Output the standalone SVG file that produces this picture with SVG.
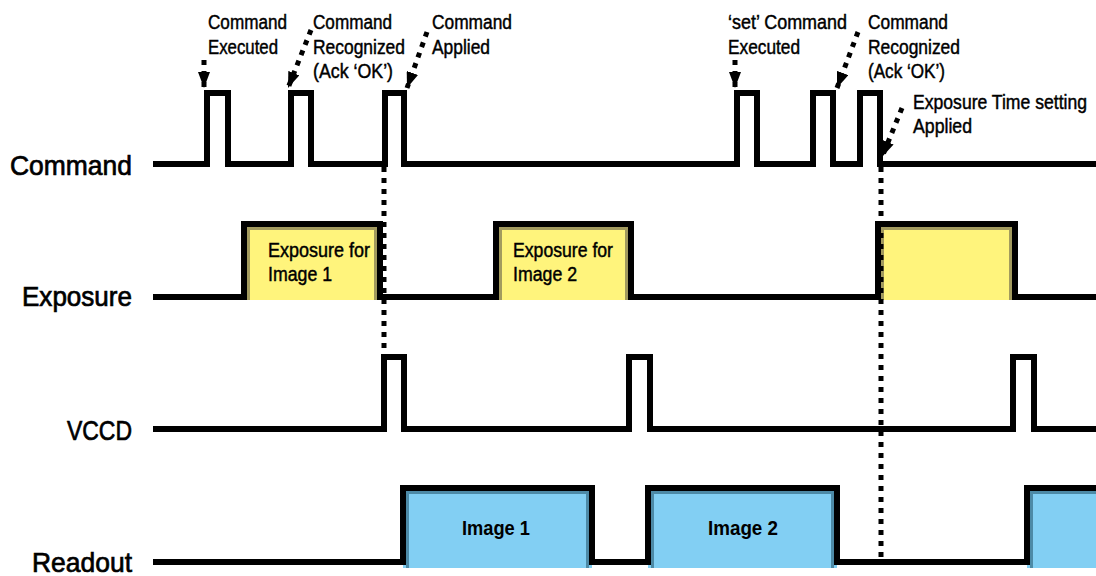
<svg xmlns="http://www.w3.org/2000/svg" width="1096" height="576" viewBox="0 0 1096 576">
<defs>
<style>
.wave{fill:none;stroke:#000;stroke-width:6;stroke-linejoin:miter;stroke-linecap:butt}
.yfill{fill:#FFF47C}
.yedge{fill:none;stroke:#A29A5E;stroke-width:3}
.bfill{fill:#82CFF3}
.bedge{fill:none;stroke:#4D8AA6;stroke-width:3}
.lbl{font-family:"Liberation Sans Narrow","Liberation Sans",Arial,sans-serif;font-size:28px;fill:#000;stroke:#000;stroke-width:0.7}
.ann{font-family:"Liberation Sans Narrow","Liberation Sans",Arial,sans-serif;font-size:20px;fill:#000;stroke:#000;stroke-width:0.45}
.img{font-family:"Liberation Sans Narrow","Liberation Sans",Arial,sans-serif;font-size:20px;font-weight:bold;fill:#000}
.dots{fill:none;stroke:#000;stroke-width:5;stroke-dasharray:5 6;stroke-linecap:butt}
</style>
<marker id="ah" markerUnits="userSpaceOnUse" markerWidth="17" markerHeight="12" refX="16" refY="6" orient="auto">
<path d="M0,0 L16,6 L0,12 Z" fill="#000"/>
</marker>
</defs>
<rect width="1096" height="576" fill="#fff"/>

<g id="command">
<text class="lbl" x="132" y="175" text-anchor="end" textLength="122" lengthAdjust="spacingAndGlyphs">Command</text>
<polyline class="wave" points="153,164 207,164 207,93 228,93 228,164 291,164 291,93 311,93 311,164 385,164 385,93 404,93 404,164 737,164 737,93 757,93 757,164 813,164 813,93 833,93 833,164 860,164 860,93 880,93 880,164 1096,164"/>
</g>

<g id="exposure">
<text class="lbl" x="132" y="306" text-anchor="end" textLength="110" lengthAdjust="spacingAndGlyphs">Exposure</text>
<rect class="yfill" x="244" y="224" width="136" height="76"/>
<path class="yedge" d="M248.5,300 V228.5 H375.5 V300"/>
<rect class="yfill" x="496" y="224" width="135" height="76"/>
<path class="yedge" d="M500.5,300 V228.5 H626.5 V300"/>
<rect class="yfill" x="878" y="224" width="137" height="76"/>
<path class="yedge" d="M882.5,300 V228.5 H1010.5 V300"/>
<polyline class="wave" points="153,297 244,297 244,224 380,224 380,297 496,297 496,224 631,224 631,297 878,297 878,224 1015,224 1015,297 1096,297"/>
<text class="ann" x="268" y="257" textLength="102" lengthAdjust="spacingAndGlyphs">Exposure for</text>
<text class="ann" x="268" y="281" textLength="64" lengthAdjust="spacingAndGlyphs">Image 1</text>
<text class="ann" x="513" y="257" textLength="100" lengthAdjust="spacingAndGlyphs">Exposure for</text>
<text class="ann" x="513" y="281" textLength="64" lengthAdjust="spacingAndGlyphs">Image 2</text>
</g>

<g id="vccd">
<text class="lbl" x="132" y="440" text-anchor="end" textLength="65" lengthAdjust="spacingAndGlyphs">VCCD</text>
<polyline class="wave" points="153,429 384,429 384,357 404,357 404,429 629,429 629,357 650,357 650,429 1013,429 1013,357 1034,357 1034,429 1096,429"/>
</g>

<g id="readout">
<text class="lbl" x="132" y="572" text-anchor="end" textLength="100" lengthAdjust="spacingAndGlyphs">Readout</text>
<rect class="bfill" x="403" y="488" width="189" height="80"/>
<path class="bedge" d="M407.5,568 V492.5 H587.5 V568"/>
<rect class="bfill" x="648" y="488" width="189" height="80"/>
<path class="bedge" d="M652.5,568 V492.5 H832.5 V568"/>
<rect class="bfill" x="1027" y="488" width="80" height="80"/>
<path class="bedge" d="M1031.5,568 V492.5 H1100"/>
<polyline class="wave" points="153,562 403,562 403,488 592,488 592,562 648,562 648,488 837,488 837,562 1027,562 1027,488 1096,488"/>
<text class="img" x="496" y="535" text-anchor="middle" textLength="68" lengthAdjust="spacingAndGlyphs">Image 1</text>
<text class="img" x="743" y="535" text-anchor="middle" textLength="70" lengthAdjust="spacingAndGlyphs">Image 2</text>
</g>

<g id="annotations">
<text class="ann" x="208" y="29" textLength="79" lengthAdjust="spacingAndGlyphs">Command</text>
<text class="ann" x="208" y="54" textLength="70" lengthAdjust="spacingAndGlyphs">Executed</text>
<text class="ann" x="313" y="29" textLength="79" lengthAdjust="spacingAndGlyphs">Command</text>
<text class="ann" x="313" y="54" textLength="92" lengthAdjust="spacingAndGlyphs">Recognized</text>
<text class="ann" x="313" y="78" textLength="80" lengthAdjust="spacingAndGlyphs">(Ack ‘OK’)</text>
<text class="ann" x="432" y="29" textLength="80" lengthAdjust="spacingAndGlyphs">Command</text>
<text class="ann" x="432" y="54" textLength="58" lengthAdjust="spacingAndGlyphs">Applied</text>
<text class="ann" x="728" y="29" textLength="119" lengthAdjust="spacingAndGlyphs">‘set’ Command</text>
<text class="ann" x="728" y="54" textLength="72" lengthAdjust="spacingAndGlyphs">Executed</text>
<text class="ann" x="868" y="29" textLength="80" lengthAdjust="spacingAndGlyphs">Command</text>
<text class="ann" x="868" y="54" textLength="92" lengthAdjust="spacingAndGlyphs">Recognized</text>
<text class="ann" x="868" y="78" textLength="77" lengthAdjust="spacingAndGlyphs">(Ack ‘OK’)</text>
<text class="ann" x="913" y="109" textLength="174" lengthAdjust="spacingAndGlyphs">Exposure Time setting</text>
<text class="ann" x="913" y="133" textLength="59" lengthAdjust="spacingAndGlyphs">Applied</text>
</g>

<g id="connectors">
<line class="dots" x1="384" y1="167" x2="384" y2="357"/>
<line class="dots" x1="881" y1="167" x2="881" y2="562"/>
<line class="dots" x1="204" y1="60" x2="204" y2="88" marker-end="url(#ah)"/>
<line class="dots" x1="311" y1="30" x2="288" y2="88" marker-end="url(#ah)"/>
<line class="dots" x1="427" y1="32" x2="407" y2="88" marker-end="url(#ah)"/>
<line class="dots" x1="735" y1="60" x2="735" y2="88" marker-end="url(#ah)"/>
<line class="dots" x1="858" y1="32" x2="837" y2="88" marker-end="url(#ah)"/>
<line class="dots" x1="902" y1="108" x2="882" y2="157" marker-end="url(#ah)"/>
</g>
</svg>
